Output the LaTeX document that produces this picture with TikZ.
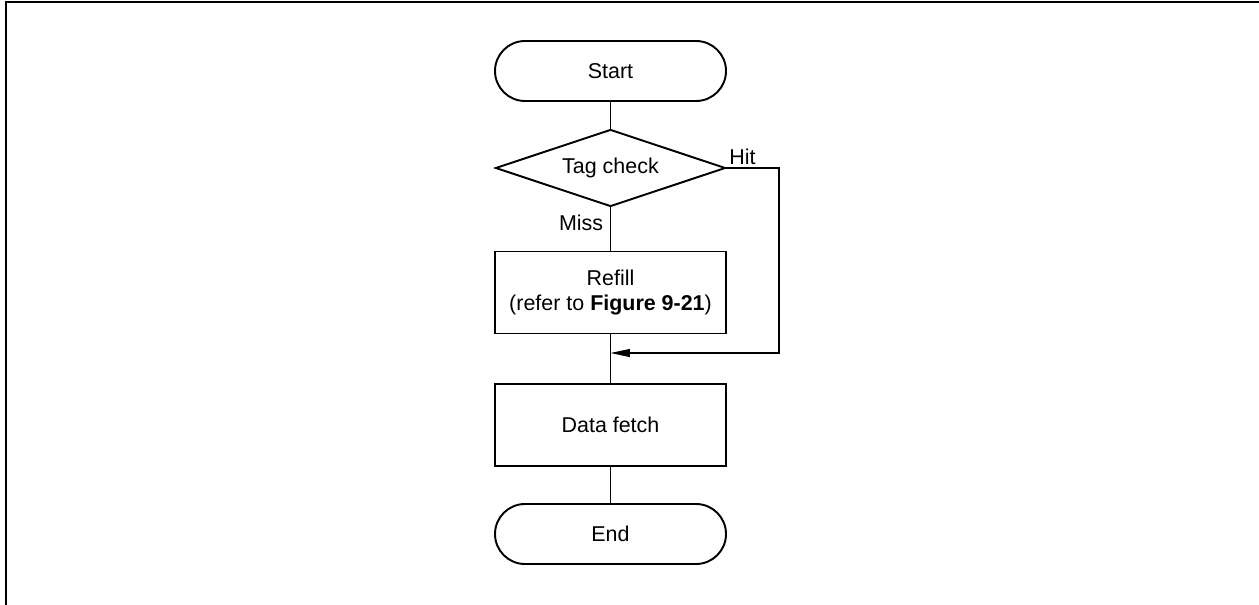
\documentclass[tikz,border=0pt]{standalone}
\usepackage{fontspec}
\setmainfont{Liberation Sans}
\usepackage{tikz}
\usetikzlibrary{arrows.meta, shapes.geometric}
\tikzset{
	termbox/.style={draw, line width=1.1pt, rounded corners=0.6cm, minimum height=1.2cm, minimum width=4.62cm},
	procbox/.style={draw, line width=1.1pt, minimum height=1.64cm, minimum width=4.62cm, align=center},
	flowline/.style={line width=0.6pt},
}

\begin{document}
\begin{tikzpicture}[
		font=\fontsize{12.2}{14}\selectfont,
		decision/.style={draw, diamond, aspect=3, line width=1.1pt, inner sep=1pt, minimum width=4.6cm, minimum height=1.54cm},
		lbl/.style={inner sep=4pt},
		>={Triangle[length=11pt, width=4.5pt]}
	]
		\useasboundingbox (0,0) rectangle (25.18,-12.1);
		% Frame
		\draw[line width=1.1pt] (25.18,-0.04) -- (0.12,-0.04) -- (0.12,-12.1);

		% Flow nodes
		\node[termbox] (start) at (12.21,-1.42) {Start};
		\node[decision] (tag) at (12.21,-3.36) {Tag check};
		\node[procbox] (refill) at (12.21,-5.85) {Refill\\(refer to \textbf{Figure 9-21})};
		\node[procbox] (fetch) at (12.21,-8.5) {Data fetch};
		\node[termbox] (end) at (12.21,-10.68) {End};

		% Main line
		\draw[flowline] (start) -- (tag);
		\draw[flowline] (tag) -- (refill);
		\draw[flowline] (refill) -- (fetch);
		\draw[flowline] (fetch) -- (end);

		% Labels
		\node[lbl, inner sep=1.5pt, above right] at (tag.east) {Hit};
		\node[lbl, below left] at (tag.south) {Miss};

		% Hit bypass
		\coordinate (join) at (12.21,-7.06);
		\draw[flowline, ->] (tag.east) -- (15.58,-3.36) -- (15.58,-7.06) -- (join);
	\end{tikzpicture}
\end{document}
